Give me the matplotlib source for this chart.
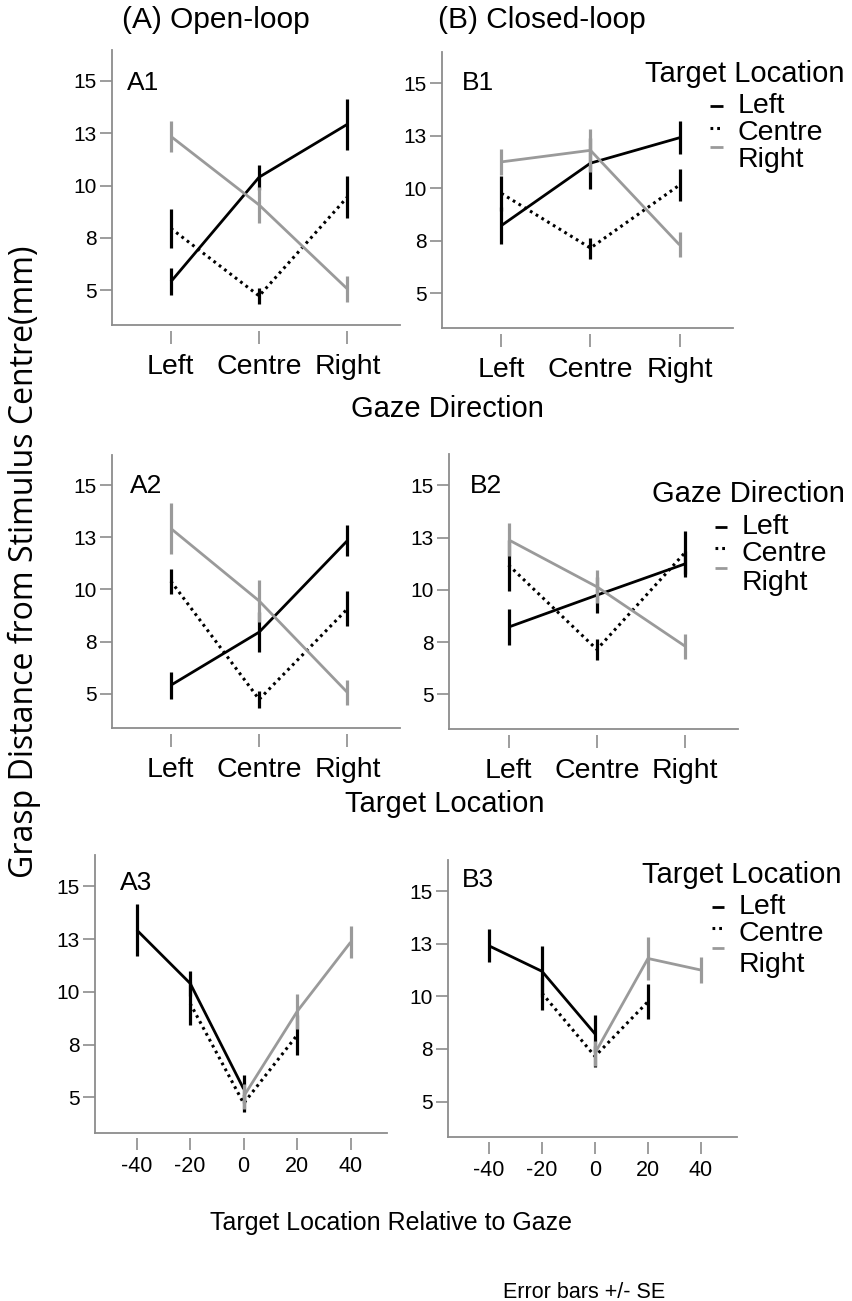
import numpy as np
import matplotlib
matplotlib.use("Agg")
import matplotlib.pyplot as plt
from matplotlib.lines import Line2D
from matplotlib import font_manager

# ---------------------------------------------------------------- data
locations = ["Left", "Centre", "Right"]
location_deg = [-20, 0, 20]          # horizontal position of each location

# Grasp distance from stimulus centre (mm); rows = target location,
# columns = gaze direction (Left, Centre, Right)
open_mean = np.array([[5.40, 10.40, 12.93],
                      [7.95, 4.72, 9.45],
                      [12.35, 9.07, 5.05]])
open_se = np.array([[0.65, 0.60, 1.23],
                    [0.95, 0.40, 1.00],
                    [0.75, 0.84, 0.60]])

closed_mean = np.array([[8.22, 11.19, 12.40],
                        [9.75, 7.15, 10.15],
                        [11.25, 11.80, 7.30]])
closed_se = np.array([[0.87, 1.22, 0.79],
                      [0.85, 0.50, 0.78],
                      [0.63, 1.03, 0.59]])

ytick_vals = [5, 7.5, 10, 12.5, 15]
ytick_labels = ["5", "8", "10", "13", "15"]
rel_ticks = [-40, -20, 0, 20, 40]

# ---------------------------------------------------------------- style
W, H, DPI = 853, 1301, 100
SANS = "Liberation Sans"
names = {f.name for f in font_manager.fontManager.ttflist}
HAS_NARROW = "Liberation Sans Narrow" in names
NARROW = "Liberation Sans Narrow" if HAS_NARROW else SANS

plt.rcParams["font.family"] = [SANS, "DejaVu Sans"]

AX_COL = "#8c8c8c"
GRAY = "#9a9a9a"
series_style = [
    dict(color="black", ls="-", lw=2.0),
    dict(color="black", ls=(0, (0.9, 1.3)), lw=2.2),
    dict(color=GRAY, ls="-", lw=2.0),
]
err_color = ["black", "black", GRAY]
YLIM = (3.33, 16.48)
CAT_XLIM = (0.33, 3.6)
REL_XLIM = (-55.6, 53.5)

fig = plt.figure(figsize=(W / DPI, H / DPI), dpi=DPI)


def fx(x):
    return x / W


def fy(y):
    return 1 - y / H


def add_axes(l, t, r, b):
    return fig.add_axes([fx(l), fy(b), (r - l) / W, (b - t) / H])


def style_axes(ax, numeric=False):
    ax.set_ylim(*YLIM)
    for s in ("top", "right"):
        ax.spines[s].set_visible(False)
    ax.spines["left"].set_color(AX_COL)
    ax.spines["left"].set_linewidth(1.3)
    ax.spines["bottom"].set_position(("outward", 4))
    ax.spines["bottom"].set_color("none")
    ax.axhline(YLIM[0], color=AX_COL, lw=1.3, clip_on=False, zorder=0.5)
    ax.set_yticks(ytick_vals)
    ax.set_yticklabels(ytick_labels)
    ax.tick_params(axis="y", direction="out", length=9, width=1.2,
                   color=AX_COL, labelsize=15, pad=2)
    if numeric:
        ax.set_xlim(*REL_XLIM)
        ax.set_xticks(rel_ticks)
        ax.set_xticklabels([str(t) for t in rel_ticks])
        ax.tick_params(axis="x", direction="out", length=8.5, width=1.2,
                       color=AX_COL, labelsize=15.5, pad=4)
    else:
        ax.set_xlim(*CAT_XLIM)
        ax.set_xticks([1, 2, 3])
        ax.set_xticklabels(locations)
        ax.tick_params(axis="x", direction="out", length=9, width=1.2,
                       color=AX_COL, labelsize=20.5, pad=8)


def draw_series(ax, x, y, e, k):
    ax.errorbar(x, y, yerr=e, fmt="none", ecolor=err_color[k],
                elinewidth=2.3, capsize=0, zorder=2 + k)
    ax.plot(x, y, zorder=2.5 + k, solid_capstyle="butt",
            dash_capstyle="butt", **series_style[k])


def panel_by_gaze(ax, mean, se):
    x = np.arange(1, 4)
    for k in range(3):
        draw_series(ax, x, mean[k, :], se[k, :], k)
    style_axes(ax)


def panel_by_target(ax, mean, se):
    x = np.arange(1, 4)
    for k in range(3):
        draw_series(ax, x, mean[:, k], se[:, k], k)
    style_axes(ax)


def panel_relative(ax, mean, se):
    for k in range(3):
        rel = np.array([location_deg[k] - g for g in location_deg])
        order = np.argsort(rel)
        draw_series(ax, rel[order], mean[k, order], se[k, order], k)
    style_axes(ax, numeric=True)


axA1 = add_axes(111.7, 50, 400.4, 325)
axB1 = add_axes(441.7, 52, 733.0, 328.3)
axA2 = add_axes(111.7, 454.6, 400.4, 728.3)
axB2 = add_axes(449.3, 454.5, 738.3, 729.3)
axA3 = add_axes(95.0, 855, 386.7, 1132.7)
axB3 = add_axes(447.7, 860, 736.7, 1136.7)

panel_by_gaze(axA1, open_mean, open_se)
panel_by_gaze(axB1, closed_mean, closed_se)
panel_by_target(axA2, open_mean, open_se)
panel_by_target(axB2, closed_mean, closed_se)
panel_relative(axA3, open_mean, open_se)
panel_relative(axB3, closed_mean, closed_se)

# ---------------------------------------------------------------- text
fig.text(fx(121.7), fy(28), "(A) Open-loop", fontsize=21.5, va="baseline")
fig.text(fx(438.3), fy(28), "(B) Closed-loop", fontsize=21.5, va="baseline")

panel_labels = [("A1", 126.7, 90), ("B1", 461.7, 90),
                ("A2", 130, 493.3), ("B2", 470, 493.3),
                ("A3", 120, 890), ("B3", 461.7, 886.7)]
for lab, x, y in panel_labels:
    fig.text(fx(x), fy(y), lab, fontsize=19, va="baseline")

fig.text(fx(447), fy(417), "Gaze Direction", fontsize=21,
         ha="center", va="baseline")
fig.text(fx(445), fy(812), "Target Location", fontsize=21,
         ha="center", va="baseline")
fig.text(fx(391.5), fy(1230), "Target Location Relative to Gaze",
         fontsize=21.5 if HAS_NARROW else 18, family=NARROW,
         ha="center", va="baseline")
fig.text(fx(503), fy(1298), "Error bars +/- SE",
         fontsize=18 if HAS_NARROW else 15.5, family=NARROW,
         ha="left", va="baseline")
fig.text(fx(24), fy(562), "Grasp Distance from Stimulus Centre(mm)",
         family=["Open Sans", "DejaVu Sans"], fontsize=23,
         rotation=90, ha="center", va="center")


# ---------------------------------------------------------------- legends
def legend(title, tx, ty, hx0, hx1, handle_y, lx, label_y):
    fig.text(fx(tx), fy(ty), title, fontsize=21, va="baseline")
    for k in range(3):
        st = dict(series_style[k])
        fig.add_artist(Line2D([fx(hx0), fx(hx1)],
                              [fy(handle_y[k])] * 2,
                              transform=fig.transFigure,
                              solid_capstyle="butt", dash_capstyle="butt",
                              **st))
        fig.text(fx(lx), fy(label_y[k]), locations[k], fontsize=20.5,
                 va="baseline")


legend("Target Location", 645, 82, 710, 723, [105.7, 128.3, 147.3],
       738, [113, 140, 167])
legend("Gaze Direction", 651.7, 501.7, 715, 727, [526.7, 548.3, 567.7],
       741.7, [534, 561, 590])
legend("Target Location", 641.7, 883, 711.7, 724, [906.7, 928, 948],
       738.3, [914, 941, 971.7])

fig.savefig("out.png", dpi=DPI)
